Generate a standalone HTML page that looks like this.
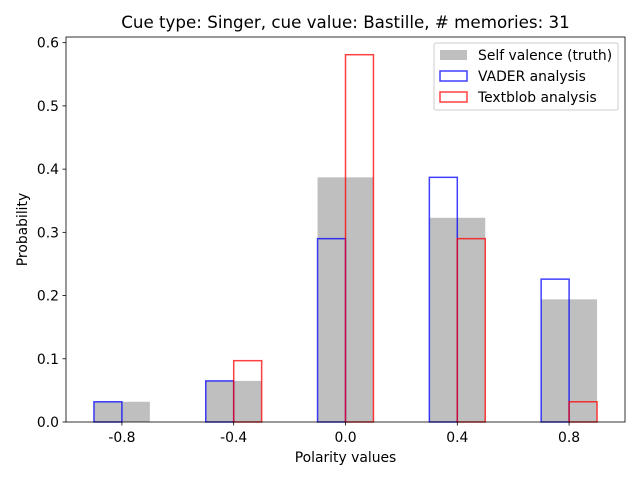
<!DOCTYPE html>
<html><head><meta charset="utf-8"><style>
body{margin:0;background:#fff;font-family:"DejaVu Sans","Liberation Sans",sans-serif;}
svg text{font-family:"DejaVu Sans","Liberation Sans",sans-serif;}
</style></head><body>
<svg id="chart" width="640" height="480" xmlns="http://www.w3.org/2000/svg">
<rect width="640" height="480" fill="#fff"/>
<g id="plot"></g>
</svg>
<script>
const categories=[-0.8,-0.4,0.0,0.4,0.8];
const truthValues=[0.032,0.065,0.387,0.323,0.194];
const vaderValues=[0.032,0.065,0.290,0.387,0.226];
const textblobValues=[0.0,0.097,0.581,0.290,0.032];
const yTicks=[0.0,0.1,0.2,0.3,0.4,0.5,0.6];
const xTickLabels=["-0.8","-0.4","0.0","0.4","0.8"];

const L=66,R=625,T=37,B=422,XMIN=-1,XMAX=1,YMAX=0.609;
const FS=13.9;
const sx=v=>L+(v-XMIN)/(XMAX-XMIN)*(R-L);
const sy=v=>B-v/YMAX*(B-T);
const NS="http://www.w3.org/2000/svg";
const g=document.getElementById('plot');
function mk(tag,attrs){const e=document.createElementNS(NS,tag);for(const k in attrs)e.setAttribute(k,attrs[k]);g.appendChild(e);return e;}

categories.forEach((c,i)=>{
 const r=mk('rect',{x:sx(c-0.1),y:sy(truthValues[i]),width:sx(c+0.1)-sx(c-0.1),height:B-sy(truthValues[i]),fill:'#bfbfbf'});
 
 
});
categories.forEach((c,i)=>{
 const r=mk('rect',{x:sx(c-0.1),y:sy(vaderValues[i]),width:sx(c)-sx(c-0.1),height:B-sy(vaderValues[i]),fill:'none',stroke:'rgba(0,0,255,0.75)','stroke-width':1.5});
 
 
});
categories.forEach((c,i)=>{
 const r=mk('rect',{x:sx(c),y:sy(textblobValues[i]),width:sx(c+0.1)-sx(c),height:B-sy(textblobValues[i]),fill:'none',stroke:'rgba(255,0,0,0.75)','stroke-width':1.5});
 
 
});
const frame=mk('rect',{x:L,y:T,width:R-L,height:B-T,fill:'none',stroke:'#000','stroke-width':0.8});


yTicks.forEach(v=>{
 mk('line',{x1:L-3.5,x2:L,y1:sy(v),y2:sy(v),stroke:'#000','stroke-width':0.8});
 const t=mk('text',{x:L-7,y:sy(v)+5,'font-size':FS,'text-anchor':'end'});t.textContent=v.toFixed(1);
 
 
});
categories.forEach((c,i)=>{
 mk('line',{x1:sx(c),x2:sx(c),y1:B,y2:B+3.5,stroke:'#000','stroke-width':0.8});
 const t=mk('text',{x:sx(c),y:B+20,'font-size':FS,'text-anchor':'middle'});t.textContent=xTickLabels[i];
 
 
});
let t=mk('text',{x:(L+R)/2,y:462,'font-size':FS,'text-anchor':'middle'});t.textContent='Polarity values';


t=mk('text',{x:27,y:(T+B)/2,'font-size':FS,'text-anchor':'middle',transform:`rotate(-90 27 ${(T+B)/2})`});t.textContent='Probability';


t=mk('text',{x:(L+R)/2,y:28,'font-size':16.7,'text-anchor':'middle'});t.textContent='Cue type: Singer, cue value: Bastille, # memories: 31';


const lg=mk('rect',{x:434,y:43,width:184,height:67,rx:2,fill:'#fff','fill-opacity':0.8,stroke:'#ccc','stroke-width':1});


const items=[['Self valence (truth)','#bfbfbf','none'],['VADER analysis','none','rgba(0,0,255,0.75)'],['Textblob analysis','none','rgba(255,0,0,0.75)']];
items.forEach((it,i)=>{
 const y=50+i*21;
 mk('rect',{x:440,y:y,width:27,height:10,fill:it[1],stroke:it[2],'stroke-width':1.5});
 const tx=mk('text',{x:478,y:y+10,'font-size':FS});tx.textContent=it[0];
 
 
});
</script>
</body></html>
